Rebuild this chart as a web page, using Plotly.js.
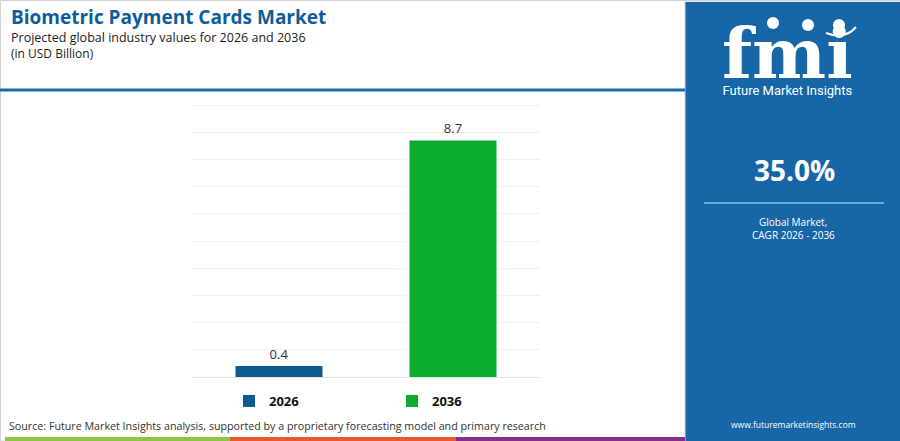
<!DOCTYPE html>
<html><head><meta charset="utf-8">
<script src="https://cdn.plot.ly/plotly-3.0.1.min.js"></script>
<style>html,body{margin:0;padding:0;background:#fff;}#chart{width:900px;height:441px;}</style>
</head><body><div id="chart"></div>
<script>
const years = ['2026', '2036'];
const values = [0.4, 8.7];
const barColors = ['#0d5b91', '#0aab2e'];
const valueLabels = ['0.4', '8.7'];
const titleText = 'Biometric Payment Cards Market';
const subtitleText = 'Projected global industry values for 2026 and 2036';
const unitText = '(in USD Billion)';
const cagrText = '35.0%';
const cagrLabel = ['Global Market,', 'CAGR 2026 - 2036'];
const sourceText = 'Source: Future Market Insights analysis, supported by a proprietary forecasting model and primary research';
const logoText = 'fmi';
const brandText = 'Future Market Insights';
const urlText = 'www.futuremarketinsights.com';

const traces = years.map((y, i) => ({
  type: 'bar', name: y, x: [y], y: [values[i]],
  marker: {color: barColors[i]}, width: 0.5,
  text: [valueLabels[i]], textposition: 'outside', cliponaxis: false,
  textfont: {family: 'Open Sans, sans-serif', size: 13, color: '#333'},
  hoverinfo: 'skip'
}));

const panel = '#1666a8';
const PH = 276;
const X = v => (v - 192) / 348;
const Y = v => (377 - v) / PH;
const layout = {
  width: 900, height: 441,
  margin: {l: 192, r: 360, t: 101, b: 64},
  paper_bgcolor: '#fff', plot_bgcolor: '#fff',
  barmode: 'overlay',
  showlegend: true,
  legend: {orientation: 'h', xref: 'container', x: 229/900, xanchor: 'left', yref: 'container', y: 1 - 386/441, yanchor: 'top',
    entrywidth: 118, entrywidthmode: 'pixels', itemwidth: 30, borderwidth: 0, bgcolor: 'rgba(0,0,0,0)',
    font: {family: 'Open Sans, sans-serif', size: 13, color: '#111', weight: 'bold'}},
  xaxis: {type: 'category', categoryorder: 'array', categoryarray: years, showticklabels: false,
    showgrid: false, zeroline: false, showline: false, ticks: '', fixedrange: true},
  yaxis: {range: [0, 10.15], dtick: 1, showticklabels: false, showgrid: true, gridcolor: '#efefef',
    gridwidth: 1, zeroline: true, zerolinecolor: '#e6e6e6', zerolinewidth: 1, showline: false, ticks: '', fixedrange: true},
  shapes: [
    {type: 'line', xref: 'paper', yref: 'paper', x0: X(0), x1: X(685), y0: Y(90), y1: Y(90), line: {color: '#1a6aab', width: 3}},
    {type: 'rect', xref: 'paper', yref: 'paper', x0: X(685), x1: X(900), y0: Y(441), y1: Y(2), line: {width: 0}, fillcolor: panel, layer: 'below'},
    {type: 'line', xref: 'paper', yref: 'paper', x0: X(704), x1: X(884), y0: Y(203), y1: Y(203), line: {color: '#8ec0e6', width: 1.5}},
    {type: 'rect', xref: 'paper', yref: 'paper', x0: X(5), x1: X(230), y0: Y(441), y1: Y(437), line: {width: 0}, fillcolor: '#8dc63f'},
    {type: 'rect', xref: 'paper', yref: 'paper', x0: X(230), x1: X(456), y0: Y(441), y1: Y(437), line: {width: 0}, fillcolor: '#e9592b'},
    {type: 'rect', xref: 'paper', yref: 'paper', x0: X(456), x1: X(685), y0: Y(441), y1: Y(437), line: {width: 0}, fillcolor: '#8b2d8c'},
    {type: 'rect', xref: 'paper', yref: 'paper', x0: X(0.5), x1: X(685), y0: Y(441), y1: Y(0.5), line: {color: '#d4d4d4', width: 1}, fillcolor: 'rgba(0,0,0,0)', layer: 'below'},
    {type: 'line', xref: 'paper', yref: 'paper', x0: X(685), x1: X(900), y0: Y(0.8), y1: Y(0.8), line: {color: '#d4d4d4', width: 1.5}},
    {type: 'circle', xref: 'paper', yref: 'paper', x0: X(767), x1: X(779), y0: Y(29), y1: Y(17), line: {width: 0}, fillcolor: '#fff'},
    {type: 'circle', xref: 'paper', yref: 'paper', x0: X(802), x1: X(814), y0: Y(31), y1: Y(19), line: {width: 0}, fillcolor: '#fff'},
    {type: 'circle', xref: 'paper', yref: 'paper', x0: X(833), x1: X(845), y0: Y(31), y1: Y(19), line: {width: 0}, fillcolor: '#fff'},
    {type: 'path', xref: 'paper', yref: 'paper', path: 'M' + X(826) + ',' + Y(33) + ' Q' + X(845) + ',' + Y(40) + ' ' + X(856) + ',' + Y(27), line: {color: '#fff', width: 2}}
  ],
  annotations: [
    {text: '<b>' + titleText + '</b>', xref: 'paper', yref: 'paper', x: X(9), y: Y(16.5), xanchor: 'left', yanchor: 'middle', showarrow: false,
      font: {family: 'Open Sans, sans-serif', size: 19, color: '#0e5c99'}},
    {text: subtitleText, xref: 'paper', yref: 'paper', x: X(9), y: Y(37), xanchor: 'left', yanchor: 'middle', showarrow: false,
      font: {family: 'Open Sans, sans-serif', size: 12.5, color: '#222'}},
    {text: unitText, xref: 'paper', yref: 'paper', x: X(9), y: Y(53.5), xanchor: 'left', yanchor: 'middle', showarrow: false,
      font: {family: 'Open Sans, sans-serif', size: 12, color: '#222'}},
    {text: sourceText, xref: 'paper', yref: 'paper', x: X(7), y: Y(426), xanchor: 'left', yanchor: 'middle', showarrow: false,
      font: {family: 'Open Sans, sans-serif', size: 10.7, color: '#333'}},
    {text: '<span style="font-size:70px;font-family:DejaVu Serif,serif;font-weight:bold">' + logoText + '</span><br>' + brandText,
      xref: 'paper', yref: 'paper', x: X(787.5), y: Y(100), xanchor: 'center', yanchor: 'bottom', align: 'center', showarrow: false,
      font: {family: 'Roboto, sans-serif', size: 13, color: '#fff'}},
    {text: '<b>' + cagrText + '</b>', xref: 'paper', yref: 'paper', x: X(794), y: Y(170), xanchor: 'center', yanchor: 'middle', showarrow: false,
      font: {family: 'Open Sans, sans-serif', size: 28, color: '#fff'}},
    {text: cagrLabel[0], xref: 'paper', yref: 'paper', x: X(793), y: Y(221.5), xanchor: 'center', yanchor: 'middle', showarrow: false,
      font: {family: 'Open Sans, sans-serif', size: 10, color: '#fff'}},
    {text: cagrLabel[1], xref: 'paper', yref: 'paper', x: X(793), y: Y(234.5), xanchor: 'center', yanchor: 'middle', showarrow: false,
      font: {family: 'Open Sans, sans-serif', size: 10, color: '#fff'}},
    {text: urlText, xref: 'paper', yref: 'paper', x: X(793), y: Y(425), xanchor: 'center', yanchor: 'middle', showarrow: false,
      font: {family: 'Open Sans, sans-serif', size: 8.5, color: '#fff'}}
  ]
};
Plotly.newPlot('chart', traces, layout, {displayModeBar: false, staticPlot: true});
</script></body></html>
